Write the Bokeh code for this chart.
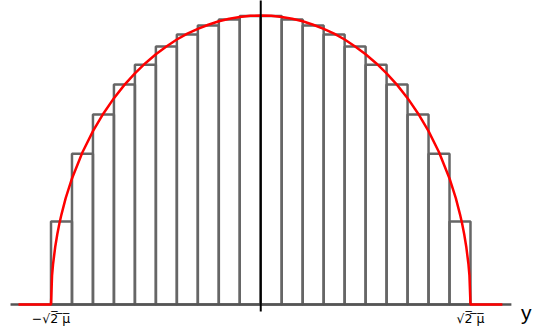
from bokeh.plotting import figure
from bokeh.models import Range1d
from bokeh.core.properties import value
from bokeh.embed import file_html
from bokeh.resources import INLINE

# Histogram bin edges (in units of sqrt(2 mu)) and normalised bar heights
bin_edges = [-1.0, -0.9, -0.8, -0.7, -0.6, -0.5, -0.4, -0.3, -0.2, -0.1, 0.0,
             0.1, 0.2, 0.3, 0.4, 0.5, 0.6, 0.7, 0.8, 0.9, 1.0]
bar_heights = [0.287, 0.522, 0.657, 0.761, 0.830, 0.893, 0.934, 0.965, 0.986, 0.998,
               0.998, 0.986, 0.965, 0.934, 0.893, 0.830, 0.761, 0.657, 0.522, 0.287]

# Red density curve, including flat tails at zero
curve_x = [-1.155, -1.0, -0.995, -0.99, -0.98, -0.97, -0.96, -0.95, -0.93, -0.9,
           -0.85, -0.8, -0.75, -0.7, -0.65, -0.6, -0.55, -0.5, -0.45, -0.4,
           -0.35, -0.3, -0.25, -0.2, -0.15, -0.1, -0.05, 0.0,
           0.05, 0.1, 0.15, 0.2, 0.25, 0.3, 0.35, 0.4, 0.45, 0.5,
           0.55, 0.6, 0.65, 0.7, 0.75, 0.8, 0.85, 0.9, 0.93, 0.95,
           0.96, 0.97, 0.98, 0.99, 0.995, 1.0, 1.152]
curve_y = [0.0, 0.0, 0.100, 0.141, 0.199, 0.243, 0.280, 0.312, 0.368, 0.436,
           0.527, 0.600, 0.661, 0.714, 0.760, 0.800, 0.835, 0.866, 0.893, 0.917,
           0.937, 0.954, 0.968, 0.980, 0.989, 0.995, 0.999, 1.0,
           0.999, 0.995, 0.989, 0.980, 0.968, 0.954, 0.937, 0.917, 0.893, 0.866,
           0.835, 0.800, 0.760, 0.714, 0.661, 0.600, 0.527, 0.436, 0.368, 0.312,
           0.280, 0.243, 0.199, 0.141, 0.100, 0.0, 0.0]

# Tick labels
tick_positions = [-1.0, 1.0]
tick_labels = ["\u2212\u221a2\u0305 \u0305\u03bc\u0305", "\u221a2\u0305 \u0305\u03bc\u0305"]
axis_label = "y"

# Axis line extents
baseline_x = [-1.193, 1.195]
baseline_y = [0.0, 0.0]
vaxis_x = [0.0, 0.0]
vaxis_y = [-0.024, 1.06]

p = figure(width=533, height=335, output_backend="svg", toolbar_location=None,
           x_range=Range1d(-1.2408, 1.3004), y_range=Range1d(-0.1073, 1.0519),
           min_border=0, outline_line_color=None)
p.axis.visible = False
p.grid.visible = False

p.quad(left=bin_edges[:-1], right=bin_edges[1:], bottom=0, top=bar_heights,
       fill_color=None, line_color="#666666", line_width=2.5)
p.line(baseline_x, baseline_y, line_color="#555555", line_width=2.5)
p.line(curve_x, curve_y, line_color="#ff0000", line_width=2.5)
p.line(vaxis_x, vaxis_y, line_color="#000000", line_width=2)

p.text(x=tick_positions, y=[-0.05, -0.05], text=tick_labels,
       text_align="center", text_baseline="middle",
       text_font=value("DejaVu Sans"), text_font_size="12.5px", text_color="#000000")
p.text(x=[1.291], y=[-0.026], text=[axis_label], text_align="right",
       text_baseline="alphabetic", text_font=value("Liberation Sans"),
       text_font_size="21px", text_color="#000000")

open("out.html", "w").write(file_html(p, INLINE))
